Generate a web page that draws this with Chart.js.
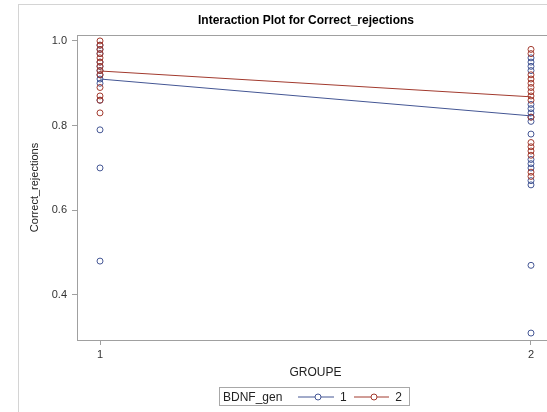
<!DOCTYPE html>
<html>
<head>
<meta charset="utf-8">
<script src="https://cdn.jsdelivr.net/npm/chart.js@4"></script>
<style>
  body { margin: 0; width: 547px; height: 412px; overflow: hidden; background: #fff; position: relative;
         font-family: Arial, 'Liberation Sans', sans-serif; }
  #frame { position: absolute; left: 18px; top: 4px; width: 600px; height: 500px; border: 1px solid #d4d4d4; }
  #title { position: absolute; left: 0; width: 612px; top: 13px; text-align: center; font-weight: bold; font-size: 12px; color: #000; }
  #legend { position: absolute; left: 219px; top: 387px; width: 191px; height: 19px; border: 1px solid #a8a8a8;
            font-size: 12px; color: #222; display: flex; align-items: center; box-sizing: border-box; padding-left: 3px; }
  #legend span { margin-right: 7px; }
  #legend svg { margin-right: 6px; }
  canvas { position: absolute; left: 0; top: 0; }
</style>
</head>
<body>
<div id="frame"></div>
<canvas id="chart" width="560" height="412"></canvas>
<div id="title">Interaction Plot for Correct_rejections</div>
<div id="legend"></div>
<script>
const groups = [1, 2]
const yTicks = [0.4, 0.6, 0.8, 1.0]
const seriesNames = ['1', '2']
const blue = '#445694'
const red = '#a23a2e'

const g1Blue = [0.99, 0.98, 0.97, 0.95, 0.94, 0.93, 0.92, 0.91, 0.90, 0.86, 0.79, 0.70, 0.48]
const g1Red = [1.0, 0.99, 0.98, 0.97, 0.96, 0.95, 0.94, 0.93, 0.92, 0.89, 0.87, 0.86, 0.83]
const g2Blue = [0.96, 0.95, 0.94, 0.93, 0.85, 0.84, 0.83, 0.82, 0.81, 0.78, 0.72, 0.71, 0.70, 0.67, 0.66, 0.47, 0.31]
const g2Red = [0.98, 0.97, 0.92, 0.91, 0.90, 0.89, 0.88, 0.87, 0.86, 0.82, 0.76, 0.75, 0.74, 0.73, 0.69, 0.68]

// group means (the connecting lines)
const meanBlue = [0.910, 0.823]
const meanRed = [0.929, 0.868]

const font = "Arial, 'Liberation Sans', sans-serif"
const axisColor = '#a0a0a0'

function pts(x, vals) { return vals.map(v => ({ x: x, y: v })) }

function scatterSet(data, col) {
  return {
    type: 'scatter', data: data, borderColor: col, backgroundColor: 'rgba(0,0,0,0)',
    pointRadius: 3, pointBorderWidth: 1, showLine: false
  }
}

const chart = new Chart(document.getElementById('chart').getContext('2d'), {
  type: 'scatter',
  data: {
    datasets: [
      { type: 'line', data: groups.map((g, i) => ({ x: g, y: meanBlue[i] })), borderColor: blue, borderWidth: 1, pointRadius: 0, fill: false },
      { type: 'line', data: groups.map((g, i) => ({ x: g, y: meanRed[i] })), borderColor: red, borderWidth: 1, pointRadius: 0, fill: false },
      scatterSet(pts(groups[0], g1Red).concat(pts(groups[1], g2Red)), red),
      scatterSet(pts(groups[0], g1Blue).concat(pts(groups[1], g2Blue)), blue)
    ]
  },
  options: {
    responsive: false,
    animation: false,
    layout: { padding: { left: 24, right: 6, top: 35, bottom: 32 } },
    plugins: { legend: { display: false }, tooltip: { enabled: false } },
    scales: {
      x: {
        type: 'linear', min: 0.9466, max: 2.0534,
        afterBuildTicks: s => { s.ticks = groups.map(v => ({ value: v })) },
        afterFit: s => { s.height = 40 },
        ticks: { color: '#333', font: { family: font, size: 11 }, padding: 3, callback: v => String(v), maxRotation: 0 },
        grid: { drawOnChartArea: false, color: axisColor, tickLength: 5 },
        border: { color: axisColor },
        title: { display: true, text: 'GROUPE', color: '#222', font: { family: font, size: 12 }, padding: { top: 0, bottom: 0 } }
      },
      y: {
        min: 0.2936, max: 1.014,
        afterBuildTicks: s => { s.ticks = yTicks.map(v => ({ value: v })) },
        afterFit: s => { s.width = 53 },
        ticks: { color: '#333', font: { family: font, size: 11 }, padding: 5, callback: v => v.toFixed(1) },
        grid: { drawOnChartArea: false, color: axisColor, tickLength: 5 },
        border: { color: axisColor },
        title: { display: true, text: 'Correct_rejections', color: '#222', font: { family: font, size: 11 }, padding: { top: 4, bottom: 0 } }
      }
    }
  },
  plugins: [{
    id: 'frameTop',
    afterDraw(c) {
      const a = c.chartArea, ctx = c.ctx
      ctx.save()
      ctx.strokeStyle = axisColor
      ctx.lineWidth = 1
      ctx.beginPath()
      ctx.moveTo(a.left, a.top + 0.5)
      ctx.lineTo(a.right, a.top + 0.5)
      ctx.lineTo(a.right - 0.5, a.bottom)
      ctx.stroke()
      ctx.restore()
    }
  }]
})

// legend
const legend = document.getElementById('legend')
legend.innerHTML = '<span style="margin-right:16px">BDNF_gen</span>'
;[blue, red].forEach((col, i) => {
  legend.innerHTML += '<svg width="40" height="10"><line x1="0" y1="5" x2="40" y2="5" stroke="' + col +
    '" stroke-width="1"/><circle cx="20" cy="5" r="3" fill="#fff" stroke="' + col + '" stroke-width="1"/></svg>' +
    '<span>' + seriesNames[i] + '</span>'
})
</script>
</body>
</html>
